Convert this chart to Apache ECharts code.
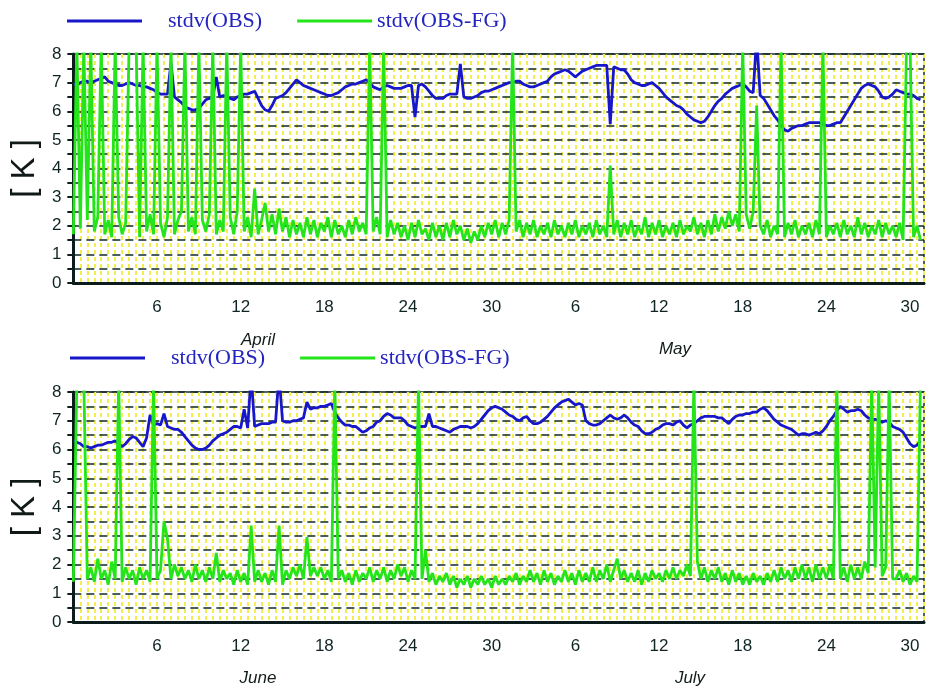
<!DOCTYPE html>
<html>
<head>
<meta charset="utf-8">
<title>stdv(OBS) / stdv(OBS-FG)</title>
<script src="https://cdn.jsdelivr.net/npm/echarts@6/dist/echarts.min.js"></script>
<style>
  html, body { margin: 0; padding: 0; background: #ffffff; }
  #chart { width: 927px; height: 688px; }
</style>
</head>
<body>
<div id="chart"></div>
<script>
// Four samples per day (00, 06, 12, 18 UTC); x = days since the start of each two-month period.
const SAMPLES_PER_DAY = 4;
// Samples that run above the 8 K top of the axis.
const OFF = 8.4;

const seriesNames = ['stdv(OBS)', 'stdv(OBS-FG)'];
const dayTicks = [6, 12, 18, 24, 30, 36, 42, 48, 54, 60];
const dayLabels = ['6', '12', '18', '24', '30', '6', '12', '18', '24', '30'];
const monthsTop = ['April', 'May'];
const monthsBottom = ['June', 'July'];

// April - May
const aprMayObs = [
  6.95, 6.9, 7.0, 7.05, 7.05, 7.0, 7.05, 7.1,
  7.15, 7.2, 7.05, 7.0, 6.95, 6.9, 6.9, 6.95,
  7.0, 6.95, 6.9, 6.9, 6.85, 6.85, 6.8, 6.75,
  6.65, 6.6, 6.6, 6.6, 7.7, 6.5, 6.4, 6.3,
  6.15, 6.1, 6.05, 6.05, 6.1, 6.25, 6.4, 6.45,
  6.5, 7.2, 6.5, 6.55, 6.5, 6.45, 6.4, 6.5,
  6.55, 6.6, 6.6, 6.65, 6.7, 6.45, 6.2, 6.05,
  6.0, 6.2, 6.45, 6.5, 6.55, 6.65, 6.8, 6.95,
  7.1, 7.0, 6.9, 6.85, 6.8, 6.75, 6.7, 6.65,
  6.6, 6.55, 6.55, 6.6, 6.65, 6.75, 6.85, 6.9,
  6.95, 6.95, 7.0, 7.05, 7.1, 7.0, 6.85, 6.8,
  6.75, 6.85, 6.9, 6.85, 6.8, 6.8, 6.8, 6.85,
  6.9, 6.9, 5.8, 6.9, 6.95, 6.85, 6.7, 6.55,
  6.45, 6.45, 6.45, 6.55, 6.6, 6.6, 6.6, 7.65,
  6.5, 6.45, 6.45, 6.5, 6.55, 6.65, 6.7, 6.7,
  6.75, 6.8, 6.85, 6.9, 6.95, 7.0, 7.0, 7.05,
  7.05, 6.95, 6.9, 6.85, 6.85, 6.9, 6.95, 7.0,
  7.05, 7.2, 7.3, 7.35, 7.4, 7.45, 7.4, 7.3,
  7.2, 7.3, 7.4, 7.45, 7.5, 7.55, 7.6, 7.6,
  7.6, 7.6, 5.55, 7.55, 7.5, 7.45, 7.45, 7.3,
  7.1, 7.0, 6.95, 6.9, 6.9, 6.95, 7.0, 6.9,
  6.8, 6.65, 6.5, 6.4, 6.3, 6.2, 6.15, 6.05,
  5.9, 5.8, 5.7, 5.65, 5.6, 5.65, 5.8, 6.0,
  6.2, 6.35, 6.45, 6.6, 6.7, 6.8, 6.85, 6.9,
  6.95, 6.85, 6.7, 6.65, 8.6, 6.55, 6.45, 6.25,
  6.05, 5.85, 5.7, 5.5, 5.35, 5.3, 5.4, 5.45,
  5.5, 5.5, 5.55, 5.6, 5.6, 5.6, 5.6, 5.55,
  5.5, 5.5, 5.55, 5.6, 5.6, 5.8, 6.0, 6.2,
  6.4, 6.6, 6.8, 6.9, 6.95, 6.9, 6.85, 6.7,
  6.5, 6.45, 6.5, 6.6, 6.75, 6.7, 6.65, 6.6,
  6.6, 6.55, 6.45, 6.4
];

const aprMayObsFg = [
  1.7, OFF, 1.9, OFF, 2.2, OFF, 1.8, 2.3,
  OFF, 1.7, 2.2, 1.6, OFF, 2.3, 1.7, 2.1,
  OFF, OFF, OFF, 1.6, OFF, 1.8, 2.4, 1.7,
  OFF, 2.1, 1.6, 2.3, OFF, 1.7, 2.2, 2.5,
  OFF, 1.8, 2.3, 1.7, OFF, 2.2, 1.8, 2.4,
  OFF, 1.7, 2.2, 1.8, OFF, 2.3, 1.7, 2.5,
  OFF, 1.8, 2.3, 1.6, 3.3, 1.7, 2.2, 2.8,
  1.8, 2.4, 1.7, 2.6, 1.8, 2.3, 1.6, 2.2,
  1.7, 2.1, 1.6, 2.3, 1.7, 2.2, 1.6, 2.1,
  1.8, 2.3, 1.6, 2.2, 1.7, 2.0, 1.6, 2.2,
  1.7, 2.3, 1.8, 2.1, 1.7, OFF, 1.8, 2.3,
  1.7, OFF, 1.6, 2.2, 1.7, 2.1, 1.6, 2.0,
  1.5, 2.1, 1.6, 2.2, 1.7, 1.9, 1.5, 2.1,
  1.6, 2.0, 1.5, 2.1, 1.6, 2.2, 1.7, 2.0,
  1.5, 1.9, 1.4, 1.8, 1.5, 2.0, 1.6, 2.1,
  1.7, 2.2, 1.6, 2.1, 1.7, 2.2, OFF, 1.8,
  2.2, 1.6, 2.1, 1.7, 2.2, 1.6, 2.0, 1.7,
  2.1, 1.6, 2.2, 1.7, 2.0, 1.6, 2.1, 1.7,
  2.2, 1.6, 2.0, 1.7, 2.1, 1.6, 2.2, 1.7,
  2.0, 1.6, 4.1, 1.7, 2.2, 1.6, 2.1, 1.7,
  2.2, 1.6, 2.0, 1.7, 2.3, 1.6, 2.1, 1.7,
  2.2, 1.6, 2.0, 1.7, 2.1, 1.6, 2.2, 1.7,
  2.0, 1.8, 2.3, 1.7, 2.1, 1.6, 2.2, 1.7,
  2.4, 1.8, 2.3, 1.9, 2.5, 2.0, 2.4, 1.8,
  OFF, 2.4, 1.9, 2.5, 6.2, 2.0, 1.7, 2.2,
  1.6, 2.0, 1.7, OFF, 1.6, 2.1, 1.7, 2.2,
  1.6, 2.0, 1.7, 2.1, 1.6, 2.2, 1.7, OFF,
  1.6, 2.0, 1.7, 2.1, 1.6, 2.2, 1.7, 2.0,
  1.6, 2.3, 1.7, 2.1, 1.6, 2.0, 1.7, 2.2,
  1.6, 2.1, 1.7, 2.0, 1.6, 2.1, 1.5, OFF,
  OFF, 1.6, 2.0, 1.5
];

// June - July
const junJulObs = [
  6.3, 6.25, 6.2, 6.1, 6.1, 6.05, 6.1, 6.15,
  6.15, 6.2, 6.25, 6.25, 6.3, 6.2, 6.1, 6.2,
  6.35, 6.45, 6.4, 6.25, 6.1, 6.4, 7.2, 6.85,
  6.9, 6.85, 7.25, 6.8, 6.75, 6.7, 6.7, 6.6,
  6.45, 6.3, 6.15, 6.05, 6.0, 6.0, 6.05, 6.15,
  6.3, 6.4, 6.5, 6.55, 6.6, 6.7, 6.8, 6.8,
  6.75, 7.4, 6.75, 8.6, 6.8, 6.85, 6.9, 6.9,
  6.9, 6.95, 6.95, 8.6, 7.0, 6.95, 6.95, 7.0,
  7.0, 7.05, 7.1, 7.65, 7.4, 7.45, 7.45, 7.5,
  7.5, 7.55, 7.6, 7.3, 7.1, 6.95, 6.85, 6.85,
  6.8, 6.8, 6.7, 6.6, 6.65, 6.75, 6.8, 6.95,
  7.0, 7.15, 7.25, 7.2, 7.1, 7.1, 7.1, 7.0,
  6.85, 6.8, 6.75, 6.8, 6.8, 6.8, 7.25, 6.8,
  6.8, 6.75, 6.7, 6.65, 6.6, 6.7, 6.75, 6.8,
  6.8, 6.8, 6.75, 6.8, 6.9, 7.05, 7.2, 7.35,
  7.45, 7.5, 7.45, 7.4, 7.3, 7.2, 7.15, 7.05,
  7.0, 7.1, 7.15, 7.0, 6.9, 6.9, 6.95, 7.05,
  7.15, 7.3, 7.45, 7.55, 7.65, 7.7, 7.75, 7.65,
  7.55, 7.6, 7.55, 7.0, 6.9, 6.85, 6.85, 6.9,
  7.0, 7.1, 7.2, 7.1, 7.05, 7.1, 7.2, 7.1,
  6.95, 6.85, 6.8, 6.65, 6.55, 6.55, 6.6, 6.7,
  6.75, 6.85, 6.9, 6.9, 6.85, 6.95, 7.0, 6.85,
  6.75, 6.85, 6.9, 7.0, 7.1, 7.15, 7.15, 7.15,
  7.15, 7.1, 7.1, 7.0, 6.9, 7.05, 7.15, 7.2,
  7.2, 7.25, 7.25, 7.3, 7.3, 7.4, 7.45, 7.35,
  7.2, 7.05, 6.95, 6.85, 6.8, 6.75, 6.7, 6.6,
  6.5, 6.55, 6.55, 6.5, 6.55, 6.6, 6.55, 6.65,
  6.8, 7.0, 7.15, 7.35, 7.5, 7.4, 7.3, 7.35,
  7.35, 7.4, 7.35, 7.2, 7.1, 7.05, 7.05, 7.0,
  6.95, 7.0, 6.95, 6.8, 6.75, 6.7, 6.6, 6.4,
  6.2, 6.1, 6.15, 6.3
];

const junJulObsFg = [
  1.4, OFF, OFF, OFF, 1.5, 1.9, 1.4, 2.2,
  1.5, 1.8, 1.3, 2.1, 1.5, OFF, 1.4, 1.9,
  1.5, 1.8, 1.3, 1.9, 1.5, 1.8, 1.4, OFF,
  1.5, 1.8, 3.5, 2.9, 1.5, 2.0, 1.6, 1.9,
  1.5, 1.8, 1.4, 2.0, 1.5, 1.8, 1.4, 1.9,
  1.5, 2.4, 1.4, 1.8, 1.5, 1.7, 1.3, 1.8,
  1.4, 1.7, 1.3, 3.35, 1.4, 1.8, 1.4, 1.7,
  1.3, 1.8, 1.4, 3.35, 1.3, 1.8, 1.5, 1.9,
  1.6, 2.0, 1.5, 2.95, 1.6, 1.9, 1.6, 1.9,
  1.5, 1.8, 1.4, OFF, 1.5, 1.8, 1.4, 1.7,
  1.3, 1.8, 1.4, 1.7, 1.5, 1.9, 1.4, 1.8,
  1.5, 1.9, 1.4, 1.8, 1.5, 2.0, 1.6, 1.9,
  1.4, 1.8, 1.5, OFF, 1.5, 2.5, 1.4, 1.7,
  1.3, 1.6, 1.4, 1.7, 1.3, 1.6, 1.2, 1.5,
  1.3, 1.6, 1.2, 1.5, 1.3, 1.6, 1.3, 1.5,
  1.2, 1.6, 1.3, 1.5, 1.3, 1.6, 1.4, 1.7,
  1.3, 1.6, 1.4, 1.8, 1.4, 1.7, 1.3, 1.8,
  1.4, 1.7, 1.3, 1.6, 1.4, 1.8, 1.4, 1.7,
  1.3, 1.8, 1.4, 1.7, 1.4, 1.9, 1.4, 1.8,
  1.5, 2.0, 1.4, 1.8, 2.2, 1.5, 1.8, 1.4,
  1.7, 1.4, 1.8, 1.3, 1.7, 1.4, 1.8, 1.5,
  1.7, 1.4, 1.8, 1.5, 1.9, 1.5, 1.8, 1.6,
  2.0, 1.6, OFF, 2.1, 1.5, 1.9, 1.4, 1.8,
  1.5, 1.9, 1.4, 1.7, 1.3, 1.8, 1.4, 1.7,
  1.3, 1.6, 1.3, 1.7, 1.4, 1.6, 1.3, 1.7,
  1.4, 1.8, 1.4, 1.9, 1.5, 1.8, 1.4, 1.9,
  1.5, 2.0, 1.5, 1.9, 1.4, 2.0, 1.5, 1.9,
  1.5, 2.0, 1.5, OFF, 1.5, 1.9, 1.4, 2.0,
  1.5, 1.9, 1.5, 2.1, 1.7, OFF, 1.9, OFF,
  1.6, 1.9, OFF, 1.5, 1.5, 1.8, 1.4, 1.7,
  1.3, 1.6, 1.4, OFF
];

// ---- styling ----
const BLUE = '#1717c9';
const GREEN = '#24e41a';
const INK = '#0c1c1c';
const SERIF = '"Liberation Serif", "DejaVu Serif", serif';
const SANS = '"Liberation Sans", Arial, sans-serif';

const panels = [
  { obs: aprMayObs, fg: aprMayObsFg, months: monthsTop,
    grid: { left: 63, right: 3, top: 54, height: 229 },
    legend: { left: 62, top: 5 },
    monthPos: [[258, 340], [675, 349]] },
  { obs: junJulObs, fg: junJulObsFg, months: monthsBottom,
    grid: { left: 65, right: 3, top: 392, height: 230 },
    legend: { left: 65, top: 342 },
    monthPos: [[258, 678], [690, 678]] }
];

const toPairs = arr => arr.map((v, j) => [j / SAMPLES_PER_DAY, v]);

const option = {
  backgroundColor: '#ffffff',
  animation: false,
  grid: [], xAxis: [], yAxis: [], series: [], legend: [], graphic: []
};

panels.forEach((p, k) => {
  option.grid.push(Object.assign({
    show: true, backgroundColor: '#ffffff',
    borderColor: '#1e2b2b', borderWidth: 1.5
  }, p.grid));

  // day axis with labels
  option.xAxis.push({
    type: 'value', gridIndex: k, min: 0, max: 61, interval: 6,
    position: 'bottom', z: 3,
    axisLine: { show: true, onZero: false, lineStyle: { color: INK, width: 3 } },
    axisTick: { show: false },
    axisLabel: {
      margin: 16, fontSize: 17, color: '#102424', fontFamily: SANS,
      formatter: v => { const i = dayTicks.indexOf(v); return i >= 0 ? dayLabels[i] : ''; }
    },
    splitLine: { show: false }
  });
  // half-day yellow grid
  option.xAxis.push({
    type: 'value', gridIndex: k, min: 0, max: 61, interval: 0.5,
    position: 'top', z: 0,
    axisLine: { show: false }, axisTick: { show: false }, axisLabel: { show: false },
    splitLine: { show: true, lineStyle: { color: '#f3ee4e', width: 2, type: [4, 3] } }
  });

  option.yAxis.push({
    type: 'value', gridIndex: k, min: 0, max: 8, interval: 0.5, z: 2,
    name: '[ K ]', nameLocation: 'middle', nameRotate: 90, nameGap: 26,
    nameTextStyle: { fontSize: 33, color: '#111818', fontFamily: SANS },
    axisLine: { show: true, lineStyle: { color: INK, width: 3 } },
    axisTick: { show: true, inside: false, length: 6, lineStyle: { color: INK, width: 2 } },
    axisLabel: {
      margin: 12, fontSize: 17, color: '#102424', fontFamily: SANS,
      formatter: v => (Number.isInteger(v) ? String(v) : '')
    },
    splitLine: { show: true, lineStyle: { color: '#0f2a2a', width: 1.5, type: [8, 5] } }
  });

  option.series.push({
    name: seriesNames[0], type: 'line', xAxisIndex: 2 * k, yAxisIndex: k,
    data: toPairs(p.obs), showSymbol: false, symbol: 'none', clip: true, z: 4,
    lineStyle: { color: BLUE, width: 2.8 }, itemStyle: { color: BLUE }
  });
  option.series.push({
    name: seriesNames[1], type: 'line', xAxisIndex: 2 * k, yAxisIndex: k,
    data: toPairs(p.fg), showSymbol: false, symbol: 'none', clip: true, z: 5,
    lineStyle: { color: GREEN, width: 2.8 }, itemStyle: { color: GREEN }
  });

  option.legend.push({
    left: p.legend.left, top: p.legend.top, orient: 'horizontal',
    selectedMode: false, icon: 'rect', itemWidth: 75, itemHeight: 3, itemGap: 35,
    textStyle: { fontFamily: SERIF, fontSize: 22, color: '#2424c0' },
    data: [
      { name: seriesNames[0], textStyle: { padding: [0, 0, 0, 21] } },
      { name: seriesNames[1] }
    ]
  });

  p.months.forEach((m, i) => {
    option.graphic.push({
      type: 'text', x: p.monthPos[i][0], y: p.monthPos[i][1], z: 10,
      style: {
        text: m, fill: '#141c1c', fontSize: 17, fontStyle: 'italic',
        fontFamily: SANS, align: 'center', verticalAlign: 'middle'
      }
    });
  });
});

const chart = echarts.init(document.getElementById('chart'), null, { renderer: 'canvas' });
chart.setOption(option);
</script>
</body>
</html>
